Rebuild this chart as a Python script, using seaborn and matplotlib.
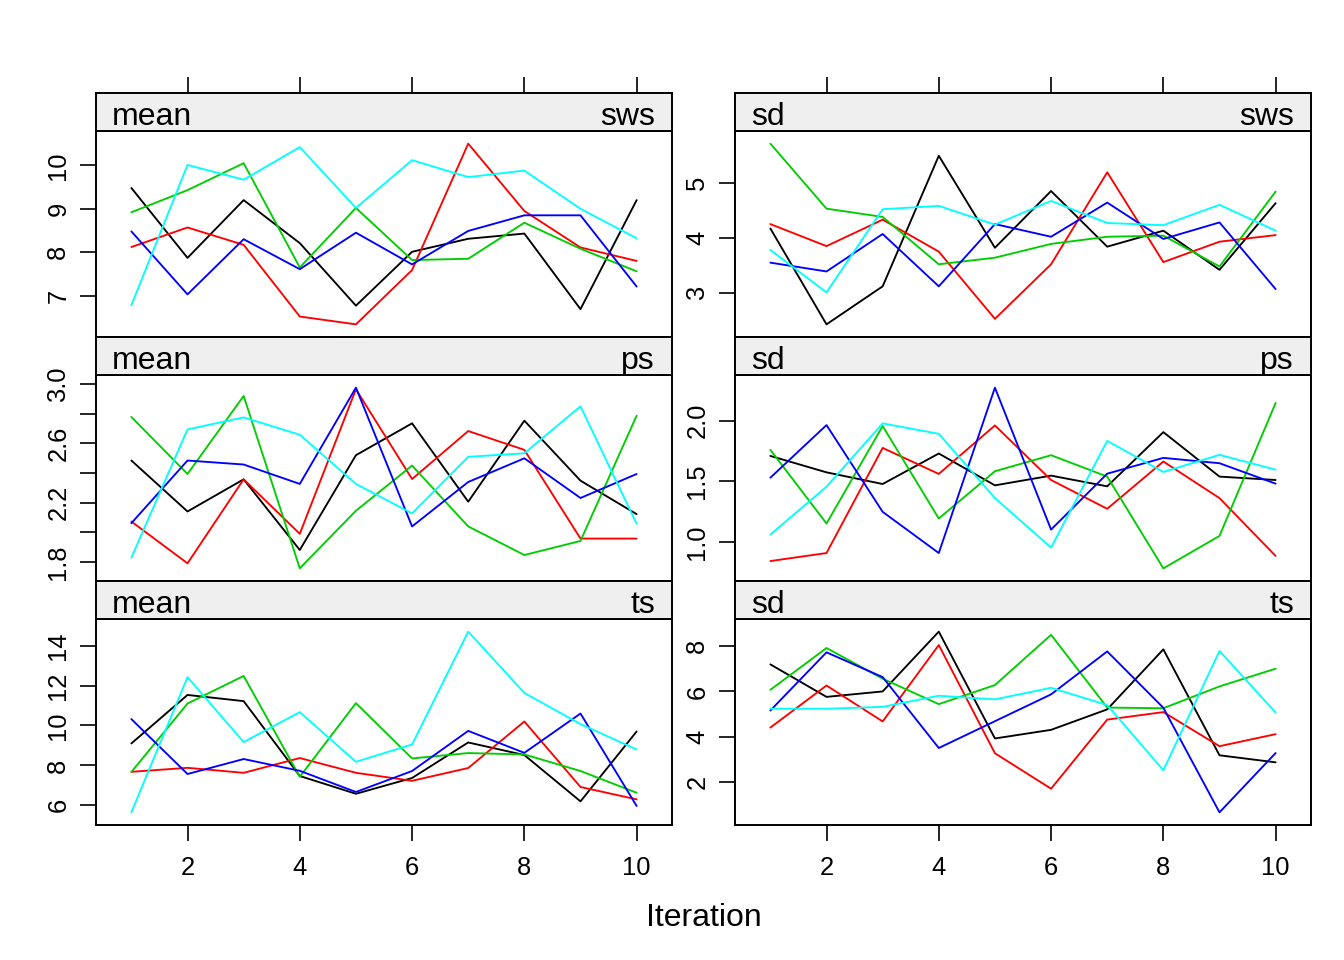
import numpy as np
import pandas as pd
import matplotlib
matplotlib.use("Agg")
import matplotlib.pyplot as plt
import seaborn as sns

sns.set_theme(style="white")
plt.rcParams["font.family"] = ["Liberation Sans", "DejaVu Sans"]

iterations = list(range(1, 11))
chain_colors = ["#000000", "#FF0000", "#00CD00", "#0000FF", "#00FFFF"]
chain_names = ["1", "2", "3", "4", "5"]

# each panel: 5 chains (black, red, green, blue, cyan) x 10 iterations
mean_sws = [
    [9.48, 7.87, 9.20, 8.21, 6.77, 8.01, 8.31, 8.43, 6.69, 9.20],
    [8.12, 8.57, 8.17, 6.52, 6.34, 7.59, 10.50, 8.95, 8.11, 7.80],
    [8.92, 9.43, 10.05, 7.65, 9.02, 7.82, 7.85, 8.68, 8.08, 7.56],
    [8.48, 7.03, 8.30, 7.61, 8.45, 7.72, 8.49, 8.85, 8.85, 7.21],
    [6.78, 10.01, 9.67, 10.42, 9.02, 10.12, 9.73, 9.88, 9.00, 8.32],
]
sd_sws = [
    [4.17, 2.43, 3.12, 5.49, 3.82, 4.85, 3.84, 4.13, 3.42, 4.63],
    [4.25, 3.85, 4.33, 3.75, 2.53, 3.52, 5.19, 3.56, 3.93, 4.05],
    [5.71, 4.53, 4.38, 3.52, 3.64, 3.89, 4.02, 4.04, 3.48, 4.84],
    [3.55, 3.39, 4.07, 3.12, 4.25, 4.02, 4.64, 3.98, 4.28, 3.07],
    [3.78, 3.01, 4.52, 4.58, 4.24, 4.67, 4.27, 4.23, 4.60, 4.13],
]
mean_ps = [
    [2.485, 2.141, 2.358, 1.881, 2.521, 2.736, 2.207, 2.754, 2.349, 2.123],
    [2.073, 1.791, 2.358, 1.990, 2.966, 2.360, 2.684, 2.557, 1.958, 1.958],
    [2.779, 2.394, 2.921, 1.757, 2.146, 2.451, 2.040, 1.847, 1.942, 2.788],
    [2.062, 2.485, 2.458, 2.327, 2.977, 2.040, 2.340, 2.500, 2.232, 2.394],
    [1.829, 2.695, 2.776, 2.659, 2.327, 2.128, 2.510, 2.534, 2.851, 2.058],
]
sd_ps = [
    [1.709, 1.574, 1.478, 1.729, 1.467, 1.547, 1.459, 1.905, 1.539, 1.511],
    [0.844, 0.910, 1.775, 1.561, 1.960, 1.511, 1.274, 1.663, 1.362, 0.886],
    [1.759, 1.153, 1.955, 1.194, 1.583, 1.715, 1.539, 0.784, 1.051, 2.145],
    [1.530, 1.963, 1.249, 0.910, 2.271, 1.103, 1.563, 1.693, 1.649, 1.481],
    [1.062, 1.456, 1.977, 1.891, 1.362, 0.955, 1.833, 1.577, 1.718, 1.596],
]
mean_ts = [
    [9.10, 11.53, 11.22, 7.47, 6.58, 7.37, 9.15, 8.52, 6.20, 9.70],
    [7.68, 7.88, 7.63, 8.37, 7.63, 7.23, 7.87, 10.20, 6.92, 6.30],
    [7.67, 11.10, 12.48, 7.43, 11.12, 8.35, 8.62, 8.55, 7.72, 6.63],
    [10.32, 7.57, 8.32, 7.73, 6.67, 7.72, 9.73, 8.63, 10.60, 5.97],
    [5.65, 12.42, 9.17, 10.67, 8.18, 9.05, 14.70, 11.63, 10.07, 8.80],
]
sd_ts = [
    [7.19, 5.76, 6.00, 8.63, 3.93, 4.31, 5.21, 7.85, 3.19, 2.88],
    [4.41, 6.26, 4.68, 8.04, 3.28, 1.72, 4.76, 5.09, 3.59, 4.12],
    [6.07, 7.91, 6.56, 5.44, 6.28, 8.49, 5.29, 5.26, 6.22, 7.00],
    [5.16, 7.72, 6.63, 3.51, 4.69, 5.87, 7.76, 5.28, 0.68, 3.29],
    [5.24, 5.24, 5.32, 5.81, 5.65, 6.16, 5.40, 2.53, 7.78, 5.07],
]

x_ticks = [2, 4, 6, 8, 10]
panels = [
    # (data, stat, variable, row, col, yticks, labelled yticks, label format)
    (mean_sws, "mean", "sws", 0, 0, [7, 8, 9, 10], [7, 8, 9, 10], "%g"),
    (sd_sws, "sd", "sws", 0, 1, [3, 4, 5], [3, 4, 5], "%g"),
    (mean_ps, "mean", "ps", 1, 0, [1.8, 2.0, 2.2, 2.4, 2.6, 2.8, 3.0], [1.8, 2.2, 2.6, 3.0], "%.1f"),
    (sd_ps, "sd", "ps", 1, 1, [1.0, 1.5, 2.0], [1.0, 1.5, 2.0], "%.1f"),
    (mean_ts, "mean", "ts", 2, 0, [6, 8, 10, 12, 14], [6, 8, 10, 12, 14], "%g"),
    (sd_ts, "sd", "ts", 2, 1, [2, 4, 6, 8], [2, 4, 6, 8], "%g"),
]

W, H = 1344, 960
fig = plt.figure(figsize=(W / 100, H / 100), dpi=100)
fig.patch.set_facecolor("white")

col_x = [(96, 672), (735, 1311)]
row_y = [(93, 131, 337), (337, 375, 581), (581, 619, 825)]  # strip top, panel top, panel bottom

def rect(x0, x1, ytop, ybot):
    return [x0 / W, 1 - ybot / H, (x1 - x0) / W, (ybot - ytop) / H]

xlim = (1 - 0.07 * 9, 10 + 0.07 * 9)
tick_len = 11.5
border_lw = 1.4

for data, stat, var, r, c, yt, ylab, fmt in panels:
    x0, x1 = col_x[c]
    st, pt, pb = row_y[r]
    ax = fig.add_axes(rect(x0, x1, pt, pb))
    sax = fig.add_axes(rect(x0, x1, st, pt))

    df = pd.DataFrame({
        "Iteration": iterations * len(data),
        "value": [v for chain in data for v in chain],
        "chain": [n for n, chain in zip(chain_names, data) for _ in chain],
    })
    sns.lineplot(data=df, x="Iteration", y="value", hue="chain",
                 palette=chain_colors, hue_order=chain_names,
                 estimator=None, legend=False, lw=1.35, ax=ax)
    vals = np.array(data)
    lo, hi = vals.min(), vals.max()
    pad = 0.07 * (hi - lo)
    ax.set_xlim(*xlim)
    ax.set_ylim(lo - pad, hi + pad)
    ax.set_xlabel("")
    ax.set_ylabel("")
    ax.set_facecolor("white")
    ax.grid(False)
    for s in ax.spines.values():
        s.set_visible(True)
        s.set_color("black")
        s.set_linewidth(border_lw)

    ax.set_yticks(yt)
    ax.set_yticklabels([(fmt % v) if any(abs(v - l) < 1e-9 for l in ylab) else "" for v in yt])
    ax.tick_params(axis="y", left=True, right=False, direction="out",
                   length=tick_len, width=1.2, color="black",
                   labelsize=18.4, pad=7, labelcolor="black")
    for lab in ax.get_yticklabels():
        lab.set_rotation(90)
        lab.set_va("center")
        lab.set_ha("right")

    ax.set_xticks(x_ticks)
    if r == 2:
        ax.tick_params(axis="x", bottom=True, top=False, direction="out",
                       length=tick_len, width=1.2, color="black",
                       labelsize=18.4, pad=10.5, labelcolor="black")
    else:
        ax.tick_params(axis="x", bottom=False, top=False, labelbottom=False)

    # strip
    sax.set_facecolor("#EFEFEF")
    sax.set_xlim(*xlim)
    sax.set_ylim(0, 1)
    sax.set_yticks([])
    for s in sax.spines.values():
        s.set_color("black")
        s.set_linewidth(border_lw)
    if r == 0:
        sax.set_xticks(x_ticks)
        sax.tick_params(axis="x", top=True, bottom=False, labeltop=False,
                        labelbottom=False, direction="out", length=tick_len,
                        width=1.2, color="black")
    else:
        sax.set_xticks([])
    sax.grid(False)
    sax.text(16 / (x1 - x0), 0.17, stat, transform=sax.transAxes,
             ha="left", va="baseline", fontsize=23, color="black")
    sax.text(1 - 17 / (x1 - x0), 0.17, var, transform=sax.transAxes,
             ha="right", va="baseline", fontsize=23, color="black")

fig.text(703.5 / W, 1 - 918 / H, "Iteration", ha="center", va="center",
         fontsize=23, color="black")

fig.savefig("out.png", dpi=100, facecolor="white")
